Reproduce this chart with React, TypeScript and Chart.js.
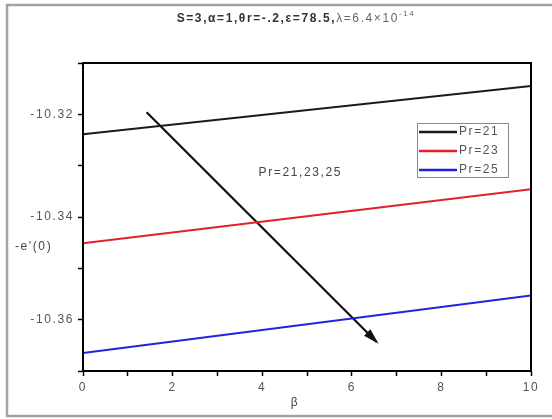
import React, { useEffect, useRef } from "react";
import { Chart, registerables } from "chart.js";

Chart.register(...registerables);

const xValues = [0, 10];
const pr21 = [-10.3239, -10.3145];
const pr23 = [-10.3451, -10.3346];
const pr25 = [-10.3665, -10.3553];
const seriesLabels = ["Pr=21", "Pr=23", "Pr=25"];
const seriesColors = ["#1a1a1a", "#e3202b", "#2222e0"];
const arrowX = [1.42, 6.55];
const arrowY = [-10.3196, -10.3643];
const annotationText = "Pr=21,23,25";
const annotationPos = [4.85, -10.3313];
const yLabeled = [-10.32, -10.34, -10.36];
const titleMain = "S=3,\u03b1=1,\u03b8r=-.2,\u03b5=78.5,";
const titleTail = "\u03bb=6.4\u00d710";
const titleSup = "-14";
const yTitle = "-e'(0)";
const xTitle = "\u03b2";

const FONT = "'Liberation Sans', Arial, sans-serif";

const decor = {
  id: "decor",
  beforeDraw(chart: any) {
    chart.ctx.letterSpacing = "1.6px";
  },
  afterDraw(chart: any) {
    const ctx = chart.ctx as CanvasRenderingContext2D;
    const { left, right, top, bottom } = chart.chartArea;
    const xs = chart.scales.x;
    const ys = chart.scales.y;
    ctx.save();
    (ctx as any).letterSpacing = "1.6px";
    // outer frame
    ctx.strokeStyle = "#a3a3a3";
    ctx.lineWidth = 2.5;
    ctx.strokeRect(7, 5, 560, 411);
    // plot box
    ctx.strokeStyle = "#000";
    ctx.lineWidth = 2;
    ctx.strokeRect(left, top, right - left, bottom - top);
    // title
    ctx.textBaseline = "middle";
    ctx.textAlign = "left";
    ctx.font = `bold 12px ${FONT}`;
    const w1 = ctx.measureText(titleMain).width;
    ctx.font = `12px ${FONT}`;
    const w2 = ctx.measureText(titleTail).width;
    ctx.font = `8px ${FONT}`;
    const w3 = ctx.measureText(titleSup).width;
    let tx = 296 - (w1 + w2 + w3) / 2;
    ctx.fillStyle = "#333";
    ctx.font = `bold 12px ${FONT}`;
    ctx.fillText(titleMain, tx, 19);
    tx += w1;
    ctx.fillStyle = "#666";
    ctx.font = `12px ${FONT}`;
    ctx.fillText(titleTail, tx, 19);
    tx += w2;
    ctx.font = `8px ${FONT}`;
    ctx.fillText(titleSup, tx, 14);
    // axis titles
    ctx.fillStyle = "#444";
    ctx.font = `12px ${FONT}`;
    ctx.textAlign = "left";
    ctx.fillText(yTitle, 15, 247);
    ctx.textAlign = "center";
    ctx.fillText(xTitle, 295, 403);
    // annotation
    ctx.font = `12px ${FONT}`;
    ctx.fillStyle = "#444";
    ctx.fillText(annotationText, xs.getPixelForValue(annotationPos[0]), ys.getPixelForValue(annotationPos[1]));
    // arrowhead
    const x0 = xs.getPixelForValue(arrowX[0]);
    const y0 = ys.getPixelForValue(arrowY[0]);
    const x1 = xs.getPixelForValue(arrowX[1]);
    const y1 = ys.getPixelForValue(arrowY[1]);
    const ang = Math.atan2(y1 - y0, x1 - x0);
    const L = 13;
    const W = 4.5;
    ctx.fillStyle = "#111";
    ctx.beginPath();
    ctx.moveTo(x1 + Math.cos(ang) * 3, y1 + Math.sin(ang) * 3);
    ctx.lineTo(x1 - Math.cos(ang) * L + Math.sin(ang) * W, y1 - Math.sin(ang) * L - Math.cos(ang) * W);
    ctx.lineTo(x1 - Math.cos(ang) * L - Math.sin(ang) * W, y1 - Math.sin(ang) * L + Math.cos(ang) * W);
    ctx.closePath();
    ctx.fill();
    // legend
    const lx = 417, ly = 123, lw = 91, lh = 54;
    ctx.strokeStyle = "#888";
    ctx.lineWidth = 1;
    ctx.strokeRect(lx + 0.5, ly + 0.5, lw, lh);
    ctx.textAlign = "left";
    ctx.font = `12px ${FONT}`;
    seriesLabels.forEach((lab, i) => {
      const yy = 132 + i * 19;
      ctx.strokeStyle = seriesColors[i];
      ctx.lineWidth = 2.5;
      ctx.beginPath();
      ctx.moveTo(419, yy);
      ctx.lineTo(457, yy);
      ctx.stroke();
      ctx.fillStyle = "#555";
      ctx.fillText(lab, 459, yy);
    });
    ctx.restore();
  },
};

export default function App() {
  const ref = useRef<HTMLCanvasElement>(null);
  useEffect(() => {
    if (!ref.current) return;
    const mk = (vals: number[]) => xValues.map((x, i) => ({ x, y: vals[i] }));
    const chart = new Chart(ref.current, {
      type: "line",
      data: {
        datasets: [
          { label: seriesLabels[0], data: mk(pr21), borderColor: seriesColors[0], borderWidth: 2, pointRadius: 0 },
          { label: seriesLabels[1], data: mk(pr23), borderColor: seriesColors[1], borderWidth: 2, pointRadius: 0 },
          { label: seriesLabels[2], data: mk(pr25), borderColor: seriesColors[2], borderWidth: 2, pointRadius: 0 },
          {
            label: "arrow",
            data: arrowX.map((x, i) => ({ x, y: arrowY[i] })),
            borderColor: "#111",
            borderWidth: 2.2,
            pointRadius: 0,
          },
        ],
      },
      options: {
        animation: false,
        responsive: false,
        events: [],
        layout: { padding: { top: 63, right: 21, left: 0, bottom: 0 } },
        plugins: { legend: { display: false }, title: { display: false }, tooltip: { enabled: false } },
        scales: {
          x: {
            type: "linear",
            min: 0,
            max: 10,
            afterFit: (s: any) => {
              s.height = 48;
            },
            ticks: {
              stepSize: 1,
              autoSkip: false,
              maxRotation: 0,
              padding: 4,
              color: "#555",
              font: { size: 12, family: FONT },
              callback: (v: any) => (Math.round(v) % 2 === 0 ? String(Math.round(v)) : ""),
            },
            grid: { drawOnChartArea: false, tickLength: 5, tickColor: "#000", tickWidth: 1.5 },
            border: { display: true, color: "#000", width: 2 },
          },
          y: {
            type: "linear",
            min: -10.37,
            max: -10.31,
            afterFit: (s: any) => {
              s.width = 83;
            },
            ticks: {
              stepSize: 0.01,
              autoSkip: false,
              padding: 4,
              color: "#555",
              font: { size: 12, family: FONT },
              callback: (v: any) => {
                const m = yLabeled.find((t) => Math.abs(t - v) < 1e-6);
                return m !== undefined ? m.toFixed(2) : "";
              },
            },
            grid: { drawOnChartArea: false, tickLength: 5, tickColor: "#000", tickWidth: 1.5 },
            border: { display: true, color: "#000", width: 2 },
          },
        },
      },
      plugins: [decor],
    });
    return () => chart.destroy();
  }, []);
  return (
    <div style={{ position: "absolute", left: 0, top: 0, width: 552, height: 419, background: "#fff" }}>
      <canvas ref={ref} width={552} height={419} style={{ display: "block", width: 552, height: 419 }} />
    </div>
  );
}
